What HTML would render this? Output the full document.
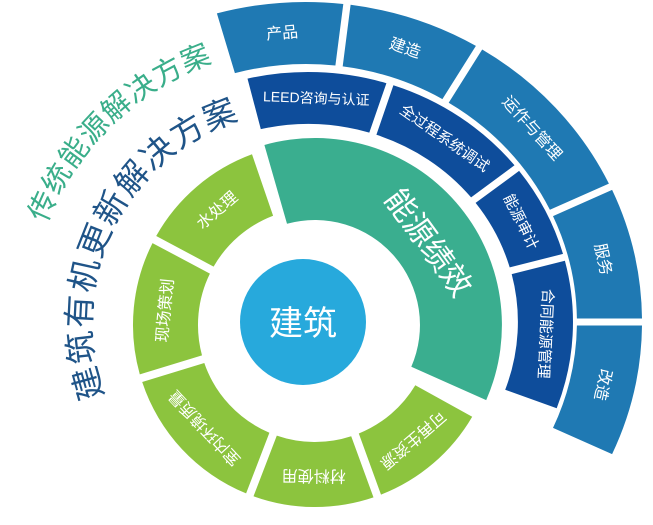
<!DOCTYPE html>
<html><head><meta charset="utf-8"><style>
html,body{margin:0;padding:0;background:#fff;width:653px;height:525px;overflow:hidden}
svg{display:block}
text{font-family:"Liberation Sans","Noto Sans CJK SC",sans-serif}
</style></head><body>
<svg id="s" width="653" height="525" viewBox="0 0 653 525" xmlns="http://www.w3.org/2000/svg">
<defs>
<path id="arc1" d="M 32.2 274.2 A 275 275 0 0 1 264.7 49.7" fill="none"/>
<path id="arc2" d="M 129.3 443.6 A 212 212 0 0 1 303 110" fill="none"/>
</defs>
<g id="g"></g>
<text font-size="29" fill="#3aae8a" letter-spacing="1"><textPath href="#arc1" startOffset="50%" text-anchor="middle">传统能源解决方案</textPath></text>
<text font-size="33" fill="#1f5488" letter-spacing="1.5"><textPath href="#arc2" startOffset="49%" text-anchor="middle">建筑有机更新解决方案</textPath></text>
</svg>
<script>
var NS="http://www.w3.org/2000/svg",g=document.getElementById("g");
function mk(cx,cy,sx){
 function P(r,a){a=a*Math.PI/180;return [(cx+sx*r*Math.sin(a)).toFixed(1),(cy-r*Math.cos(a)).toFixed(1)];}
 return {
 sec:function(r1,r2,a1,a2,fill,gp){
  var o1=a1+gp/2/r2*180/Math.PI,o2=a2-gp/2/r2*180/Math.PI,i1=a1+gp/2/r1*180/Math.PI,i2=a2-gp/2/r1*180/Math.PI;
  var A=P(r2,o1),B=P(r2,o2),C=P(r1,i2),D=P(r1,i1);
  var p=document.createElementNS(NS,"path");
  p.setAttribute("d","M"+A+" A"+(r2*sx)+" "+r2+" 0 0 1 "+B+" L"+C+" A"+(r1*sx)+" "+r1+" 0 0 0 "+D+"Z");
  p.setAttribute("fill",fill);g.appendChild(p);
 },
 lab:function(t,r,a,fs){
  var q=P(r,a);
  var e=document.createElementNS(NS,"text");
  e.setAttribute("transform","translate("+q[0]+","+q[1]+") rotate("+a+")");
  e.setAttribute("text-anchor","middle");e.setAttribute("dominant-baseline","central");
  e.setAttribute("font-size",fs);e.setAttribute("fill","#fff");e.textContent=t;g.appendChild(e);
 }};
}
var O="#1f79b3",D="#0e4d9b",T="#3aae8f",G="#8cc43e";
var ro=mk(306,322,1.05);
[[-16,7,"产品"],[7,31,"建造"],[31,65,"运作与管理"],[65,90,"服务"],[90,115,"改造"]].forEach(function(s){ro.sec(258,320,s[0],s[1],O,7);ro.lab(s[2],289,(s[0]+s[1])/2,16);});
var rd=mk(308,322,1.06);
[[-14,18,"LEED咨询与认证",14],[18,52,"全过程系统调试",15],[52,75,"能源审计",15],[75,111,"合同能源管理",15]].forEach(function(s){rd.sec(198,250,s[0],s[1],D,7);rd.lab(s[2],224,(s[0]+s[1])/2,s[3]);});
var rg=mk(315,325,1);
rg.sec(105,187,-16,114,T,2);
rg.lab("能源绩效",140,54,31);
[[-62,-19,"水处理"],[-107,-62,"现场策划"],[-159,-107,"室内环境质量"],[160,201,"材料使用"],[119,160,"可再生资源"]].forEach(function(s){rg.sec(117,182,s[0],s[1],G,8);rg.lab(s[2],150,(s[0]+s[1])/2,16);});
var c=document.createElementNS(NS,"circle");c.setAttribute("cx",303);c.setAttribute("cy",322);c.setAttribute("r",63);c.setAttribute("fill","#27a9dc");g.appendChild(c);
var t=document.createElementNS(NS,"text");t.setAttribute("x",303);t.setAttribute("y",324);t.setAttribute("text-anchor","middle");t.setAttribute("dominant-baseline","central");t.setAttribute("font-size","34");t.setAttribute("fill","#fff");t.textContent="建筑";g.appendChild(t);
</script>
</body></html>
